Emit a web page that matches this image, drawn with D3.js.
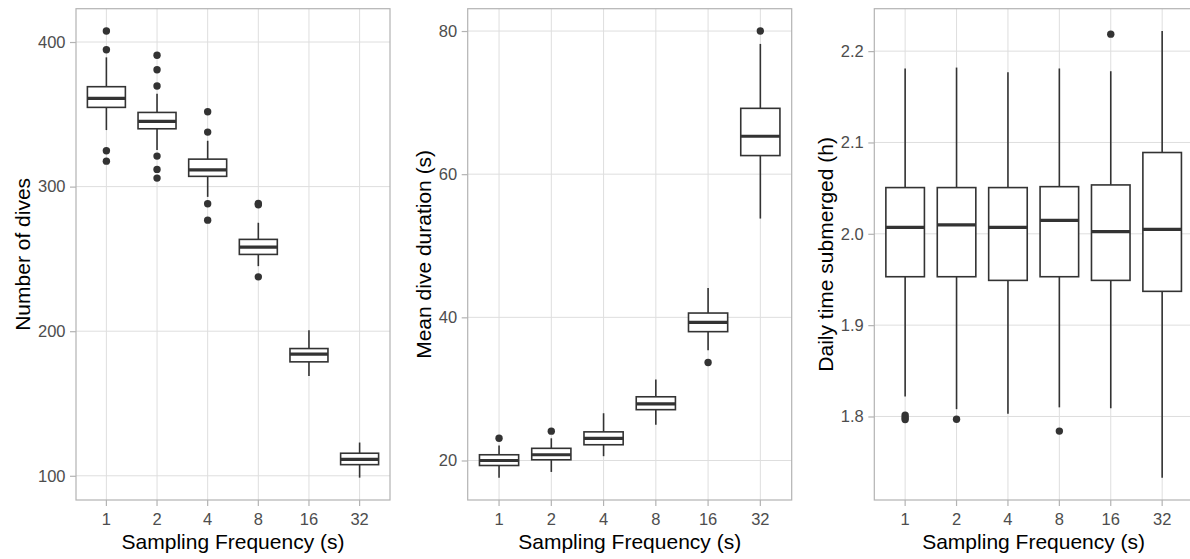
<!DOCTYPE html>
<html>
<head>
<meta charset="utf-8">
<script src="https://cdn.jsdelivr.net/npm/d3@7"></script>
<style>
  body { margin: 0; background: #fff; }
  svg { display: block; font-family: "Liberation Sans", Arial, sans-serif; }
</style>
</head>
<body>
<div id="chart"></div>
<script>
// sampling frequency categories (s)
var categories = ["1", "2", "4", "8", "16", "32"];

// number of dives
var divesLow    = [339.1, 325.3, 292.9, 245.0, 169.1, 98.7];
var divesQ1     = [354.8, 340.0, 307.1, 253.1, 178.8, 107.7];
var divesMedian = [361.0, 345.1, 311.6, 258.1, 184.1, 111.4];
var divesQ3     = [369.1, 351.3, 319.0, 263.5, 188.0, 115.6];
var divesHigh   = [389.4, 364.2, 331.7, 275.0, 200.7, 123.0];
var divesOut    = [[407.6, 394.7, 324.8, 317.6],
                   [390.8, 380.8, 369.6, 321.1, 311.9, 305.9],
                   [351.8, 337.7, 288.1, 276.8],
                   [288.4, 287.4, 237.6],
                   [], []];

// mean dive duration (s)
var durLow    = [17.6, 18.4, 20.6, 25.0, 35.4, 53.8];
var durQ1     = [19.3, 20.1, 22.2, 27.1, 38.0, 62.6];
var durMedian = [20.0, 20.8, 23.1, 27.9, 39.3, 65.3];
var durQ3     = [20.8, 21.7, 24.0, 28.9, 40.6, 69.2];
var durHigh   = [22.1, 23.1, 26.6, 31.3, 44.1, 78.2];
var durOut    = [[23.1], [24.1], [], [], [33.7], [80.0]];

// daily time submerged (h)
var subLow    = [1.822, 1.808, 1.803, 1.810, 1.809, 1.733];
var subQ1     = [1.953, 1.953, 1.949, 1.953, 1.949, 1.937];
var subMedian = [2.007, 2.0097, 2.007, 2.0147, 2.0023, 2.0048];
var subQ3     = [2.0506, 2.0506, 2.0506, 2.0516, 2.0535, 2.089];
var subHigh   = [2.181, 2.182, 2.177, 2.181, 2.178, 2.222];
var subOut    = [[1.8015, 1.799, 1.7967], [1.797], [], [1.784], [2.2186], []];

var divesTicks = [100, 200, 300, 400];
var durTicks = [20, 40, 60, 80];
var subTicks = [1.8, 1.9, 2.0, 2.1, 2.2];

var panels = [
  {title: "Number of dives", low: divesLow, q1: divesQ1, med: divesMedian, q3: divesQ3, high: divesHigh, out: divesOut, ticks: divesTicks, fmt: d3.format("d"), x0: 76, x1: 390},
  {title: "Mean dive duration (s)", low: durLow, q1: durQ1, med: durMedian, q3: durQ3, high: durHigh, out: durOut, ticks: durTicks, fmt: d3.format("d"), x0: 467.7, x1: 791.7},
  {title: "Daily time submerged (h)", low: subLow, q1: subQ1, med: subMedian, q3: subQ3, high: subHigh, out: subOut, ticks: subTicks, fmt: d3.format(".1f"), x0: 874.3, x1: 1193}
];

var W = 1190, H = 559, plotTop = 8.7, plotBottom = 500;

var svg = d3.select("#chart").append("svg")
    .attr("width", W).attr("height", H);

panels.forEach(function(p) {
  var all = p.low.concat(p.high, d3.merge(p.out));
  var lo = d3.min(all), hi = d3.max(all), pad = (hi - lo) * 0.05;
  var y = d3.scaleLinear().domain([lo - pad, hi + pad]).range([plotBottom, plotTop]);
  var x = d3.scaleBand().domain(categories).range([p.x0, p.x1])
      .paddingOuter(0.1).paddingInner(0);
  var bw = x.bandwidth() * 0.75;
  var cx = function(i) { return x(categories[i]) + x.bandwidth() / 2; };

  var g = svg.append("g");

  // gridlines
  g.selectAll(".hgrid").data(p.ticks).enter().append("line")
      .attr("x1", p.x0).attr("x2", p.x1)
      .attr("y1", function(d) { return y(d); }).attr("y2", function(d) { return y(d); })
      .attr("stroke", "#dedede").attr("stroke-width", 1);
  g.selectAll(".vgrid").data(categories).enter().append("line")
      .attr("x1", function(d, i) { return cx(i); }).attr("x2", function(d, i) { return cx(i); })
      .attr("y1", plotTop).attr("y2", plotBottom)
      .attr("stroke", "#dedede").attr("stroke-width", 1);

  // axes
  var yAxis = g.append("g").attr("transform", "translate(" + p.x0 + ",0)")
      .call(d3.axisLeft(y).tickValues(p.ticks).tickFormat(p.fmt).tickSize(6).tickPadding(4.5));
  var xAxis = g.append("g").attr("transform", "translate(0," + plotBottom + ")")
      .call(d3.axisBottom(x).tickSize(6).tickPadding(7));
  [yAxis, xAxis].forEach(function(a) {
    a.select(".domain").remove();
    a.selectAll(".tick line").attr("stroke", "#b3b3b3").attr("stroke-width", 1.2);
    a.selectAll(".tick text").attr("fill", "#4d4d4d")
        .style("font-size", "16.5px").style("font-family", "Liberation Sans, Arial, sans-serif");
  });

  // boxes
  var idx = d3.range(categories.length);
  var box = g.selectAll(".box").data(idx).enter().append("g");
  box.append("line")
      .attr("x1", cx).attr("x2", cx)
      .attr("y1", function(i) { return y(p.high[i]); })
      .attr("y2", function(i) { return y(p.q3[i]); })
      .attr("stroke", "#333").attr("stroke-width", 1.6);
  box.append("line")
      .attr("x1", cx).attr("x2", cx)
      .attr("y1", function(i) { return y(p.q1[i]); })
      .attr("y2", function(i) { return y(p.low[i]); })
      .attr("stroke", "#333").attr("stroke-width", 1.6);
  box.append("rect")
      .attr("x", function(i) { return cx(i) - bw / 2; })
      .attr("width", bw)
      .attr("y", function(i) { return y(p.q3[i]); })
      .attr("height", function(i) { return y(p.q1[i]) - y(p.q3[i]); })
      .attr("fill", "#fff").attr("stroke", "#333").attr("stroke-width", 1.6);
  box.append("line")
      .attr("x1", function(i) { return cx(i) - bw / 2; })
      .attr("x2", function(i) { return cx(i) + bw / 2; })
      .attr("y1", function(i) { return y(p.med[i]); })
      .attr("y2", function(i) { return y(p.med[i]); })
      .attr("stroke", "#333").attr("stroke-width", 3.2);
  box.each(function(i) {
    d3.select(this).selectAll("circle").data(p.out[i]).enter().append("circle")
        .attr("cx", cx(i)).attr("cy", function(d) { return y(d); })
        .attr("r", 3.7).attr("fill", "#333");
  });

  // panel border
  g.append("rect")
      .attr("x", p.x0).attr("y", plotTop)
      .attr("width", p.x1 - p.x0).attr("height", plotBottom - plotTop)
      .attr("fill", "none").attr("stroke", "#b3b3b3").attr("stroke-width", 1.2);

  // titles
  g.append("text")
      .attr("x", (p.x0 + p.x1) / 2).attr("y", 549)
      .attr("text-anchor", "middle").style("font-size", "21px").attr("fill", "#000")
      .text("Sampling Frequency (s)");

  // y title sits just left of the widest tick label
  var labelLeft = d3.min(yAxis.selectAll(".tick text").nodes(), function(n) {
    return p.x0 - 6 - 4.5 - n.getComputedTextLength();
  });
  g.append("text")
      .attr("transform", "translate(" + (labelLeft - 8) + "," + ((plotTop + plotBottom) / 2) + ") rotate(-90)")
      .attr("text-anchor", "middle").style("font-size", "21px").attr("fill", "#000")
      .text(p.title);
});
</script>
</body>
</html>
